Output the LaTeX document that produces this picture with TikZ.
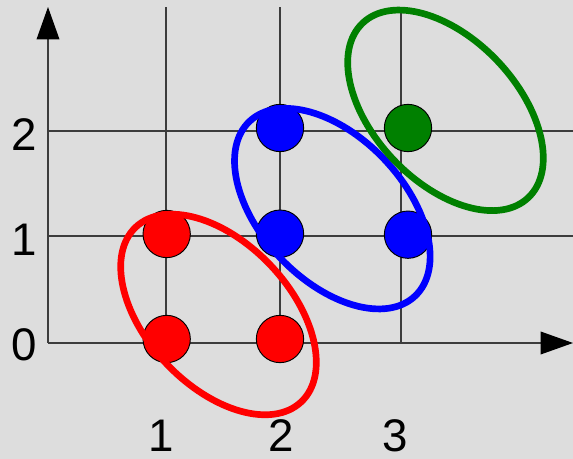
\documentclass[tikz,border=0pt]{standalone}
\usepackage{fontspec}
\setmainfont{Liberation Sans}
\usetikzlibrary{arrows.meta}
\definecolor{bggray}{RGB}{221,221,221}
\definecolor{linegray}{RGB}{60,60,60}
\definecolor{dotgreen}{RGB}{0,128,0}
\begin{document}
\begin{tikzpicture}[scale=1.0,
  gridline/.style={draw=linegray, line width=1.1pt},
  axisline/.style={draw=linegray, line width=1.1pt, -{Triangle[length=0.97cm,width=0.68cm,color=black]}},
  dot/.style={circle, draw=black, line width=0.8pt, fill=#1, minimum size=1.42cm, inner sep=0pt},
  ring/.style={draw=#1, line width=5.7pt},
  numlabel/.style={font=\fontsize{39}{39}\selectfont, inner sep=0pt}]
\fill[bggray] (-1.44,-3.48) rectangle (15.75,10.29);
\useasboundingbox (-1.44,-3.48) rectangle (15.75,10.29);
\draw[gridline] (3.54,0) -- (3.54,10.08);
\draw[gridline] (6.96,0) -- (6.96,10.08);
\draw[gridline] (10.59,0) -- (10.59,10.08);
\draw[gridline] (0,3.21) -- (15.75,3.21);
\draw[gridline] (0,6.36) -- (15.75,6.36);
\draw[axisline] (0,0) -- (15.75,0);
\draw[axisline] (0,0) -- (0,10.08);
\node[numlabel] (y0) at (-0.72,-0.06) {0};
\node[numlabel] (y1) at (-0.72,3.09) {1};
\node[numlabel] (y2) at (-0.72,6.25) {2};
\node[numlabel] (x1) at (3.40,-2.78) {1};
\node[numlabel] (x2) at (6.99,-2.78) {2};
\node[numlabel] (x3) at (10.41,-2.78) {3};
\node[dot=red] (r1) at (3.56,3.27) {};
\node[dot=red] (r2) at (3.56,0.12) {};
\node[dot=red] (r3) at (6.96,0.12) {};
\draw[ring=red, rotate around={-46.5:(5.115,0.855)}] (5.115,0.855) ellipse (3.61 and 2.15);
\node[dot=blue] (b1) at (6.96,6.45) {};
\node[dot=blue] (b2) at (6.96,3.28) {};
\node[dot=blue] (b3) at (10.80,3.25) {};
\draw[ring=blue, rotate around={-46.5:(8.53,4.03)}] (8.53,4.03) ellipse (3.61 and 2.15);
\node[dot=dotgreen] (g1) at (10.80,6.45) {};
\draw[ring=dotgreen, rotate around={-46.5:(11.925,6.98)}] (11.925,6.98) ellipse (3.61 and 2.15);
\end{tikzpicture}
\end{document}
